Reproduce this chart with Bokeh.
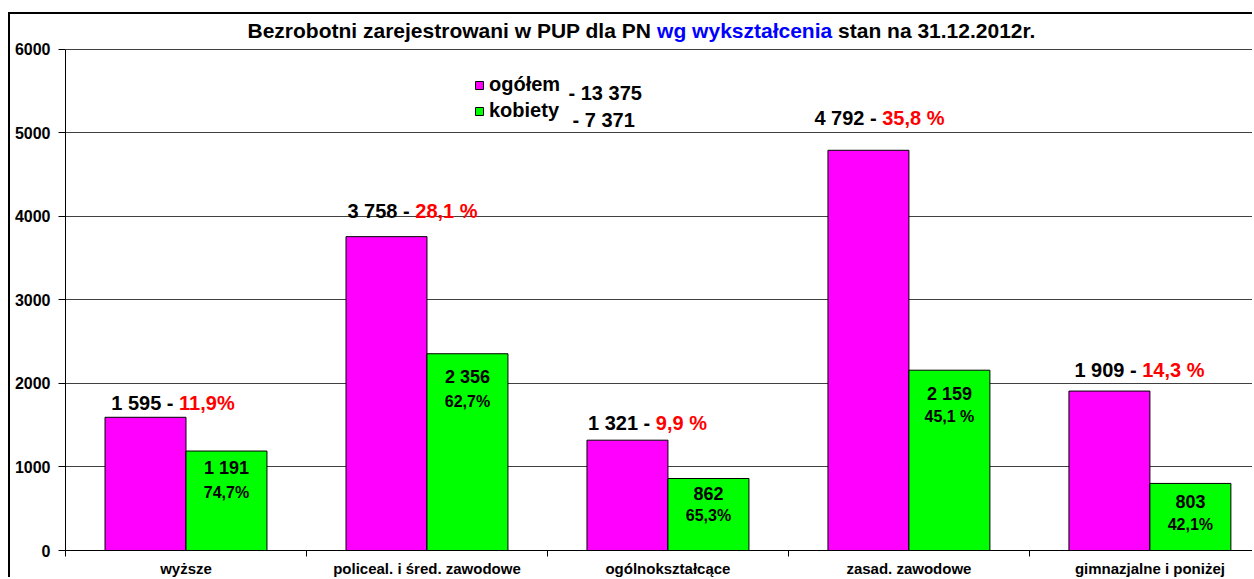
from bokeh.plotting import figure
from bokeh.models import ColumnDataSource, Range1d, FixedTicker, Label, Legend, LegendItem
from bokeh.transform import dodge
from bokeh.core.properties import value
from bokeh.embed import file_html
from bokeh.resources import INLINE

# ---------------- data ----------------
categories = ["wyższe", "policeal. i śred. zawodowe", "ogólnokształcące",
              "zasad. zawodowe", "gimnazjalne i poniżej"]
ogolem = [1595, 3758, 1321, 4792, 1909]
kobiety = [1191, 2356, 862, 2159, 803]
ogolem_value_text = ["1 595 - ", "3 758 - ", "1 321 - ", "4 792 - ", "1 909 - "]
ogolem_share_text = ["11,9%", "28,1 %", "9,9 %", "35,8 %", "14,3 %"]
kobiety_value_text = ["1 191", "2 356", "862", "2 159", "803"]
kobiety_share_text = ["74,7%", "62,7%", "65,3%", "45,1 %", "42,1%"]
series_names = ["ogółem", "kobiety"]
series_totals = ["- 13  375", "- 7 371"]
title_parts = ["Bezrobotni zarejestrowani w PUP dla PN", "wg wykształcenia",
               "stan na 31.12.2012r."]
y_ticks = [0, 1000, 2000, 3000, 4000, 5000, 6000]

# ---------------- styles / label placement (pixels) ----------------
FONT = "Liberation Sans"
MAGENTA = "#FF00FF"
GREEN = "#00FF00"
top_label_dx = [28, 26, 20, 11, 30]      # shift of top label centre from magenta bar centre
top_label_dy = [14, 26, 17, 32, 21]      # height of top label centre above bar top
kob_value_dy = [17, 23, 15, 24, 18]      # below green bar top
kob_share_dy = [41, 48, 37, 46, 41]
TOP_FS, KV_FS, KS_FS = 20, 18, 16

AW = {' ': 278, '-': 333, ',': 278, '.': 278, '%': 889,
      'a': 556, 'b': 611, 'c': 556, 'd': 611, 'e': 556, 'f': 333, 'g': 611, 'h': 611,
      'i': 278, 'j': 278, 'k': 556, 'l': 278, 'm': 889, 'n': 611, 'o': 611, 'p': 611,
      'r': 389, 's': 556, 't': 333, 'u': 611, 'w': 778, 'y': 556, 'z': 500,
      'ó': 611, 'ł': 278, 'ż': 500, 'ś': 556,
      'B': 722, 'P': 667, 'U': 722, 'N': 722}


def text_w(s, size):
    return sum(AW.get(ch, 556) for ch in s) * size / 1000.0


BAR_W = 0.336
n = len(categories)
xc = [i + 0.5 for i in range(n)]

split_off = []
for i in range(n):
    wb = text_w(ogolem_value_text[i], TOP_FS)
    wr = text_w(ogolem_share_text[i], TOP_FS)
    split_off.append(top_label_dx[i] - (wb + wr) / 2 + wb)

src = ColumnDataSource(dict(
    xc=xc, og=ogolem, kob=kobiety,
    og_txt=ogolem_value_text, og_pct=ogolem_share_text,
    kob_txt=kobiety_value_text, kob_pct=kobiety_share_text,
    split=split_off,
    top_dy=[-d for d in top_label_dy],
    kv_dy=kob_value_dy, ks_dy=kob_share_dy,
))

# frame: left at x=65, value 0 at y=551, value 6000 at y=49
p = figure(width=1244, height=565, title=None,
           x_range=Range1d(0, 4.934), y_range=Range1d(0, 6418),
           output_backend="svg", toolbar_location=None,
           min_border_left=55, min_border_top=0, min_border_bottom=28, min_border_right=0)
p.styles = {"margin-left": "8px", "margin-top": "12px",
            "border-left": "2px solid black", "border-top": "2px solid black"}
p.outline_line_color = None
p.background_fill_color = "white"
p.border_fill_color = "white"

r1 = p.vbar(x=dodge("xc", -BAR_W / 2, range=p.x_range), top="og", width=BAR_W, source=src,
            fill_color=MAGENTA, line_color="black", line_width=1)
r2 = p.vbar(x=dodge("xc", BAR_W / 2, range=p.x_range), top="kob", width=BAR_W, source=src,
            fill_color=GREEN, line_color="black", line_width=1)

# top labels (value black, share red)
p.text(x=dodge("xc", -BAR_W / 2, range=p.x_range), y="og", text="og_txt", source=src,
       x_offset="split", y_offset="top_dy", text_align="right", text_baseline="middle",
       text_font=value(FONT), text_font_style="bold", text_font_size=f"{TOP_FS}px",
       text_color="black")
p.text(x=dodge("xc", -BAR_W / 2, range=p.x_range), y="og", text="og_pct", source=src,
       x_offset="split", y_offset="top_dy", text_align="left", text_baseline="middle",
       text_font=value(FONT), text_font_style="bold", text_font_size=f"{TOP_FS}px",
       text_color="#FF0000")
# labels inside green bars
p.text(x=dodge("xc", BAR_W / 2, range=p.x_range), y="kob", text="kob_txt", source=src,
       y_offset="kv_dy", text_align="center", text_baseline="middle",
       text_font=value(FONT), text_font_style="bold", text_font_size=f"{KV_FS}px",
       text_color="black")
p.text(x=dodge("xc", BAR_W / 2, range=p.x_range), y="kob", text="kob_pct", source=src,
       y_offset="ks_dy", text_align="center", text_baseline="middle",
       text_font=value(FONT), text_font_style="bold", text_font_size=f"{KS_FS}px",
       text_color="black")

# axes
yax = p.yaxis[0]
yax.ticker = FixedTicker(ticks=y_ticks)
yax.bounds = (0, 6000)
yax.minor_tick_line_color = None
yax.major_tick_out = 7
yax.major_tick_in = 0
yax.major_label_standoff = 8
yax.major_label_text_font = FONT
yax.major_label_text_font_style = "bold"
yax.major_label_text_font_size = "16px"
yax.major_label_text_color = "black"
yax.axis_line_color = "black"
yax.major_tick_line_color = "black"

xax = p.xaxis[0]
xax.ticker = FixedTicker(ticks=xc, minor_ticks=[i for i in range(n + 1)])
xax.major_label_overrides = {c: lab for c, lab in zip(xc, categories)}
xax.major_tick_out = 0
xax.major_tick_in = 0
xax.minor_tick_out = 6
xax.minor_tick_in = 0
xax.minor_tick_line_color = "black"
xax.major_label_standoff = 3
xax.major_label_text_font = FONT
xax.major_label_text_font_style = "bold"
xax.major_label_text_font_size = "15px"
xax.major_label_text_color = "black"
xax.axis_line_color = "black"

p.xgrid.visible = False
p.ygrid.ticker = FixedTicker(ticks=y_ticks)
p.ygrid.grid_line_color = "#404040"
p.ygrid.grid_line_width = 1

# legend
legend = Legend(items=[LegendItem(label=series_names[0], renderers=[r1]),
                       LegendItem(label=series_names[1], renderers=[r2])],
                location=(409, 428), orientation="vertical",
                glyph_width=10, glyph_height=10, label_standoff=5,
                label_text_font=FONT, label_text_font_style="bold",
                label_text_font_size="20px", label_text_color="black",
                label_height=23, spacing=3,
                padding=0, margin=0, border_line_color=None, background_fill_alpha=0)
p.add_layout(legend)

for txt, (lx, ly) in zip(series_totals, [(503, 458), (507, 431)]):
    p.add_layout(Label(x=lx, y=ly, x_units="screen", y_units="screen", text=txt,
                       text_font=FONT, text_font_style="bold", text_font_size="20px",
                       text_baseline="middle", text_color="black"))

# title in three colours
TITLE_FS = 21
title_colors = ["black", "#0000FF", "black"]
gap = text_w(" ", TITLE_FS)
total_w = sum(text_w(t, TITLE_FS) for t in title_parts) + gap * (len(title_parts) - 1)
tx = (641.5 - 65) - total_w / 2
for t, col in zip(title_parts, title_colors):
    p.add_layout(Label(x=tx, y=520, x_units="screen", y_units="screen", text=t,
                       text_font=FONT, text_font_style="bold", text_font_size=f"{TITLE_FS}px",
                       text_baseline="middle", text_align="left", text_color=col))
    tx += text_w(t, TITLE_FS) + gap

open("out.html", "w").write(file_html(p, INLINE))
